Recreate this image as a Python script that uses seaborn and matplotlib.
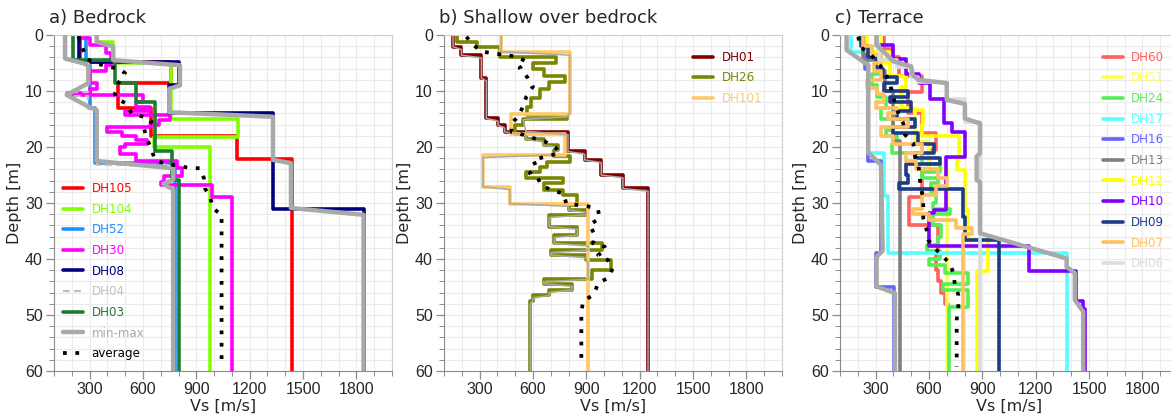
import matplotlib
matplotlib.use('agg')
import matplotlib.pyplot as plt
from matplotlib.ticker import MultipleLocator
import seaborn as sns

MAX_DEPTH = 60

# ---------------- a) Bedrock ----------------
DH105_Z = [0, 4.8, 8.5, 13.0, 18.1, 22.2]
DH105_VS = [245, 760, 460, 648, 1128, 1436]
DH104_Z = [0, 1.2, 5.0, 15.0, 18.2, 20.0]
DH104_VS = [340, 433, 755, 1132, 662, 975]
DH52_Z = [0, 5.3, 13.0, 22.9]
DH52_VS = [280, 300, 330, 780]
DH30_Z = [0, 0.6, 1.8, 3.3, 5.4, 6.5, 8.6, 9.6, 10.3, 10.8, 12.0, 12.8, 13.5, 14.3, 15.2,
          16.0, 16.5, 17.3, 18.0, 18.7, 19.5, 20.0, 21.3, 22.5, 23.8, 25.2, 26.2, 26.8, 28.9]
DH30_VS = [240, 300, 390, 420, 395, 300, 340, 300, 175, 600, 560, 640, 500, 750, 690,
           640, 400, 480, 560, 620, 500, 470, 560, 790, 820, 720, 700, 990, 1100]
DH08_Z = [0, 4.8, 8.9, 14.0, 31.0]
DH08_VS = [238, 805, 745, 1331, 1840]
DH04_Z = [0, 4.5, 10.2, 10.9, 13.2, 23.3]
DH04_VS = [165, 292, 175, 292, 340, 770]
DH03_Z = [0, 4.5, 8.5, 11.9, 20.8, 25.9]
DH03_VS = [205, 445, 560, 665, 765, 800]

A_MAX_Z = [0, 1.2, 2.1, 4.5, 5.4, 9.0, 9.6, 13.8, 14.6, 22.3, 22.9, 30.9, 32.1, 60]
A_MAX_VS = [340, 340, 433, 433, 808, 808, 748, 748, 1331, 1331, 1432, 1432, 1840, 1840]
A_MIN_Z = [0, 4.2, 5.3, 8.6, 10.7, 12.8, 13.4, 22.5, 23.8, 25.8, 26.6, 27.6, 60]
A_MIN_VS = [162, 162, 293, 293, 171, 293, 340, 340, 770, 770, 714, 770, 770]
A_AVG_Z = [0.3, 2.4, 4.3, 5.1, 5.7, 6.0, 6.8, 8.6, 10.4, 11.3, 12.2, 14.0, 14.6, 15.5, 16.7,
           18.4, 20.5, 22.3, 23.0, 23.3, 23.7, 23.8, 25.6, 27.4, 28.9, 31.0, 32.1, 59.2]
A_AVG_VS = [237, 261, 287, 340, 415, 461, 499, 461, 443, 448, 504, 536, 602, 649, 606,
            621, 649, 667, 724, 789, 855, 921, 943, 949, 977, 995, 1042, 1042]

# ---------------- b) Shallow over bedrock ----------------
DH01_Z = [0, 2.1, 3.6, 7.7, 14.9, 16.1, 17.3, 20.8, 22.3, 25.0, 27.4]
DH01_VS = [151, 198, 310, 338, 404, 441, 797, 891, 984, 1106, 1247]
DH26_Z = [0, 1.2, 2.1, 3.9, 5.0, 6.0, 7.4, 8.4, 9.7, 11.3, 12.8, 14.2, 15.0, 16.0, 17.6,
          18.6, 19.6, 20.6, 21.6, 22.6, 23.5, 24.5, 25.5, 26.5, 27.7, 28.5, 30.4, 31.2, 32.1,
          34.2, 35.7, 37.2, 38.4, 39.3, 40.2, 42.0, 43.6, 44.4, 45.5, 46.5, 47.5]
DH26_VS = [175, 285, 413, 730, 600, 660, 780, 690, 640, 590, 565, 790, 545, 500, 560,
           660, 740, 720, 810, 680, 640, 560, 770, 660, 770, 845, 800, 900, 690,
           850, 720, 990, 700, 900, 1040, 930, 660, 820, 690, 600, 585]
DH101_Z = [0, 3.0, 14.1, 17.6, 21.4, 27.1, 30.1]
DH101_VS = [422, 806, 475, 778, 319, 469, 910]

B_MAX_Z = [0, 3.0, 3.6, 14.0, 14.6, 15.1, 17.2, 17.8, 20.8, 21.3, 22.3, 22.8, 25.0, 25.5,
           27.4, 27.9, 60]
B_MAX_VS = [422, 422, 806, 806, 790, 545, 560, 797, 797, 891, 891, 984, 984, 1106,
            1106, 1247, 1247]
B_MIN_Z = [0, 2.1, 2.6, 3.6, 4.1, 7.7, 8.2, 14.9, 15.4, 16.1, 16.6, 17.3, 17.9, 18.6, 19.1,
           19.6, 20.1, 20.6, 21.1, 21.4, 21.9, 27.1, 27.6, 30.1, 30.6, 31.2, 31.7, 32.1, 32.6,
           34.2, 34.7, 35.7, 36.2, 37.2, 37.7, 38.4, 38.9, 39.3, 39.8, 40.2, 40.7, 43.6, 44.1,
           44.4, 44.9, 45.5, 46.0, 46.5, 47.0, 47.5, 48.0, 60]
B_MIN_VS = [151, 151, 198, 198, 310, 310, 338, 338, 404, 404, 441, 441, 560, 560, 660,
            660, 740, 740, 720, 720, 319, 319, 469, 469, 800, 800, 900, 900, 690,
            690, 850, 850, 720, 720, 910, 910, 700, 700, 900, 900, 910, 910, 660,
            660, 820, 820, 690, 690, 600, 600, 585, 585]
B_AVG_Z = [0.3, 1.8, 3.0, 3.3, 3.6, 3.9, 4.8, 5.9, 7.7, 9.2, 11.0, 12.8, 14.6, 15.8, 17.3,
           17.8, 18.4, 19.0, 20.2, 21.1, 22.3, 23.5, 24.7, 25.6, 26.8, 27.7, 28.3, 30.1, 30.3,
           30.6, 31.2, 32.7, 33.9, 35.7, 37.2, 37.8, 38.4, 39.3, 40.2, 41.6, 43.4, 44.3, 45.2,
           46.4, 47.6, 49.7, 58.0]
B_AVG_VS = [226, 263, 319, 385, 451, 516, 563, 525, 572, 600, 563, 544, 516, 479, 479,
            544, 600, 666, 731, 750, 600, 619, 582, 628, 647, 703, 769, 788, 844,
            909, 966, 975, 919, 947, 938, 1003, 1012, 966, 1022, 1050, 1022, 966, 956,
            938, 881, 872, 872]

# ---------------- c) Terrace ----------------
DH60_Z = [0, 2.5, 4.0, 7.4, 10.1, 14.0, 17.5, 20.5, 24.0, 28.9, 34.0, 39.0, 42.0, 44.0, 46.0, 48.0]
DH60_VS = [350, 400, 430, 560, 480, 560, 640, 600, 560, 490, 650, 640, 650, 670, 690, 705]
DH51_Z = [0, 3.0, 7.5, 9.2, 13.0, 19.0, 24.0]
DH51_VS = [330, 380, 470, 440, 520, 600, 700]
DH24_Z = [0, 1.0, 3.0, 5.0, 7.0, 9.0, 11.0, 13.0, 15.0, 17.0, 18.0, 19.5, 21.0, 23.0, 24.5,
          25.5, 26.5, 28.0, 30.0, 31.0, 32.0, 34.0, 36.0, 37.5, 38.5, 40.0, 41.0, 42.5, 44.5,
          45.5, 48.5]
DH24_VS = [210, 230, 300, 330, 280, 310, 360, 330, 400, 360, 420, 390, 560, 660, 560,
           650, 610, 640, 620, 720, 620, 670, 650, 590, 660, 600, 690, 820, 680,
           820, 710]
DH17_Z = [0, 3.0, 21.0, 28.8, 39.0]
DH17_VS = [160, 260, 350, 370, 1374]
DH16_Z = [0, 6.0, 22.5, 39.0, 45.0]
DH16_VS = [240, 260, 330, 300, 405]
DH13_Z = [0, 4.5, 6.5, 10.0, 19.0]
DH13_VS = [230, 300, 353, 400, 437]
DH12_Z = [0, 3.0, 5.0, 7.4, 9.2, 13.4, 16.0, 18.0, 22.3, 24.1, 31.2, 36.6, 42.2]
DH12_VS = [250, 320, 380, 470, 450, 568, 560, 770, 760, 802, 820, 933, 868]
DH10_Z = [0, 1.8, 4.2, 7.0, 8.5, 11.4, 15.8, 17.3, 21.8, 31.2, 31.8, 37.7, 42.2, 47.5, 49.0]
DH10_VS = [300, 400, 470, 545, 606, 685, 727, 802, 695, 630, 600, 1160, 1425, 1465, 1480]
DH09_Z = [0, 2.0, 4.0, 6.0, 7.5, 8.5, 10.0, 11.0, 12.0, 13.5, 15.0, 16.5, 17.5, 19.5, 21.0,
          22.0, 23.0, 25.0, 26.5, 27.5, 32.5, 36.6]
DH09_VS = [220, 260, 300, 340, 420, 350, 480, 380, 500, 420, 520, 400, 540, 630, 520,
           660, 470, 480, 430, 790, 800, 995]
DH07_Z = [0, 2.0, 3.5, 5.0, 6.5, 8.0, 9.5, 10.5, 12.0, 13.0, 14.0, 15.0, 16.5, 18.0, 19.5,
          21.0, 22.5, 24.0, 25.5, 27.0, 28.5, 31.0, 32.0, 33.0, 34.5, 35.5]
DH07_VS = [230, 280, 330, 290, 330, 250, 310, 350, 300, 420, 370, 480, 330, 400, 560,
           470, 530, 650, 700, 640, 560, 510, 600, 750, 840, 793]
DH06_Z = [0, 1.8, 4.5, 5.7, 7.5, 8.4, 11.5, 15.5]
DH06_VS = [300, 320, 420, 500, 540, 700, 800, 886]

C_MAX_Z = [0, 1.8, 4.7, 5.6, 7.2, 8.0, 8.6, 11.6, 12.3, 14.9, 15.8, 21.1, 21.7, 25.9, 26.3,
           35.4, 39.9, 41.4, 42.5, 47.3, 49.4, 60]
C_MAX_VS = [306, 306, 400, 500, 510, 540, 700, 700, 802, 802, 887, 887, 868, 868, 887,
            887, 1374, 1374, 1420, 1420, 1467, 1467]
C_MIN_Z = [0, 2.7, 5.4, 21.0, 23.2, 38.5, 39.6, 44.9, 46.1, 60]
C_MIN_VS = [137, 137, 259, 259, 330, 340, 306, 306, 409, 409]
C_AVG_Z = [0.3, 2.1, 3.3, 4.75, 6.5, 9.8, 12.2, 14.0, 15.8, 17.8, 19.3, 21.4, 23.2, 25.3,
           27.1, 28.9, 31.2, 32.7, 34.8, 36.6, 38.1, 39.6, 40.8, 42.5, 44.6, 46.4, 48.5,
           50.9, 59.2]
C_AVG_VS = [203, 212, 268, 306, 353, 390, 409, 428, 456, 465, 512, 521, 540, 550,
            550, 568, 568, 568, 587, 596, 634, 680, 718, 737, 746, 765, 765,
            756, 756]

ENV_GRAY = '#a9a9a9'
LW = 2.6
TICK_FONT = 'Liberation Sans'


def steps(tops, vs):
    z, v = [], []
    bottoms = tops[1:] + [MAX_DEPTH]
    for t, b, s in zip(tops, bottoms, vs):
        z += [t, b]
        v += [s, s]
    return v, z


def profile(ax, tops, vs, color, label, ls='-', lw=LW, zorder=2):
    x, y = steps(tops, vs)
    sns.lineplot(x=x, y=y, sort=False, estimator=None, color=color, linewidth=lw,
                 linestyle=ls, label=label, zorder=zorder, ax=ax)


def envelope(ax, zmin, vmin, zmax, vmax, lw, label=None):
    sns.lineplot(x=vmax, y=zmax, sort=False, estimator=None, color=ENV_GRAY,
                 linewidth=lw, label=label, zorder=3, ax=ax)
    sns.lineplot(x=vmin, y=zmin, sort=False, estimator=None, color=ENV_GRAY,
                 linewidth=lw, zorder=3, ax=ax)


def average(ax, z, v, label=None):
    sns.lineplot(x=v, y=z, sort=False, estimator=None, color='black', linewidth=2.7,
                 linestyle=(0, (1, 2.3)), dash_capstyle='butt', label=label,
                 zorder=4, ax=ax)


def format_axes(ax, title):
    ax.set_xlim(100, 2000)
    ax.set_ylim(MAX_DEPTH, 0)
    ax.xaxis.set_major_locator(MultipleLocator(300))
    ax.xaxis.set_minor_locator(MultipleLocator(100))
    ax.yaxis.set_major_locator(MultipleLocator(10))
    ax.yaxis.set_minor_locator(MultipleLocator(2))
    ax.grid(which='both', color='#ebebeb', linewidth=0.8)
    ax.set_axisbelow(True)
    for side in ['left', 'bottom']:
        ax.spines[side].set_color('#8c8c8c')
    for side in ['top', 'right']:
        ax.spines[side].set_color('#cfcfcf')
    ax.tick_params(which='major', direction='out', length=6, width=0.9, color='#8c8c8c',
                   labelsize=11.5, pad=2, left=True, bottom=True)
    ax.tick_params(which='minor', direction='out', length=3.5, width=0.7, color='#8c8c8c',
                   left=True, bottom=True)
    for lab in ax.get_xticklabels() + ax.get_yticklabels():
        lab.set_family(TICK_FONT)
    ax.set_xlabel('Vs [m/s]', fontsize=11.5, labelpad=1)
    ax.set_ylabel('Depth [m]', fontsize=11.5, labelpad=2)
    ax.text(-0.015, 1.025, title, transform=ax.transAxes, fontsize=13, ha='left', va='bottom')


def add_legend(ax, handles_order, **kw):
    handles, labels = ax.get_legend_handles_labels()
    lut = dict(zip(labels, handles))
    ax.legend([lut[l] for l in handles_order], handles_order, frameon=False,
              labelcolor='linecolor', fontsize=8.6, handlelength=1.7, handletextpad=0.7,
              labelspacing=0.64, **kw)


sns.set_style('white')
plt.rcParams['font.family'] = ['DejaVu Sans']

fig = plt.figure(figsize=(11.71, 4.19), dpi=100)
bottom, height, width = 48 / 419, 336 / 419, 338 / 1171
ax_a = fig.add_axes([54 / 1171, bottom, width, height])
ax_b = fig.add_axes([444 / 1171, bottom, width, height])
ax_c = fig.add_axes([840 / 1171, bottom, width, height])

# a) Bedrock
profile(ax_a, DH105_Z, DH105_VS, '#ff0000', 'DH105')
profile(ax_a, DH104_Z, DH104_VS, '#80ff00', 'DH104')
profile(ax_a, DH52_Z, DH52_VS, '#1e8fff', 'DH52')
profile(ax_a, DH30_Z, DH30_VS, '#ff00ff', 'DH30')
profile(ax_a, DH08_Z, DH08_VS, '#000080', 'DH08')
profile(ax_a, DH04_Z, DH04_VS, '#c0c0c0', 'DH04', ls=(0, (3, 2)), lw=1.6)
profile(ax_a, DH03_Z, DH03_VS, '#1e7b32', 'DH03')
envelope(ax_a, A_MIN_Z, A_MIN_VS, A_MAX_Z, A_MAX_VS, 3.2, label='min-max')
average(ax_a, A_AVG_Z, A_AVG_VS, label='average')
format_axes(ax_a, 'a) Bedrock')
add_legend(ax_a, ['DH105', 'DH104', 'DH52', 'DH30', 'DH08', 'DH04', 'DH03', 'min-max', 'average'],
           loc='lower left', bbox_to_anchor=(-0.005, 0.0))

# b) Shallow over bedrock
profile(ax_b, DH01_Z, DH01_VS, '#800000', 'DH01')
profile(ax_b, DH26_Z, DH26_VS, '#7b8600', 'DH26')
profile(ax_b, DH101_Z, DH101_VS, '#ffc966', 'DH101')
envelope(ax_b, B_MIN_Z, B_MIN_VS, B_MAX_Z, B_MAX_VS, 1.1)
average(ax_b, B_AVG_Z, B_AVG_VS)
format_axes(ax_b, 'b) Shallow over bedrock')
add_legend(ax_b, ['DH01', 'DH26', 'DH101'], loc='upper left', bbox_to_anchor=(0.705, 0.985))

# c) Terrace
profile(ax_c, DH60_Z, DH60_VS, '#ff6060', 'DH60')
profile(ax_c, DH51_Z, DH51_VS, '#ffff4d', 'DH51')
profile(ax_c, DH24_Z, DH24_VS, '#55ee55', 'DH24')
profile(ax_c, DH17_Z, DH17_VS, '#55ffff', 'DH17')
profile(ax_c, DH16_Z, DH16_VS, '#6464ff', 'DH16')
profile(ax_c, DH13_Z, DH13_VS, '#808080', 'DH13')
profile(ax_c, DH12_Z, DH12_VS, '#ffff00', 'DH12')
profile(ax_c, DH10_Z, DH10_VS, '#8000ff', 'DH10')
profile(ax_c, DH09_Z, DH09_VS, '#1c3c88', 'DH09')
profile(ax_c, DH07_Z, DH07_VS, '#ffc060', 'DH07')
profile(ax_c, DH06_Z, DH06_VS, '#dcdcdc', 'DH06')
envelope(ax_c, C_MIN_Z, C_MIN_VS, C_MAX_Z, C_MAX_VS, 3.2)
average(ax_c, C_AVG_Z, C_AVG_VS)
format_axes(ax_c, 'c) Terrace')
add_legend(ax_c, ['DH60', 'DH51', 'DH24', 'DH17', 'DH16', 'DH13', 'DH12', 'DH10', 'DH09',
                  'DH07', 'DH06'], loc='upper left', bbox_to_anchor=(0.745, 0.985))

fig.savefig('out.png', dpi=100)
